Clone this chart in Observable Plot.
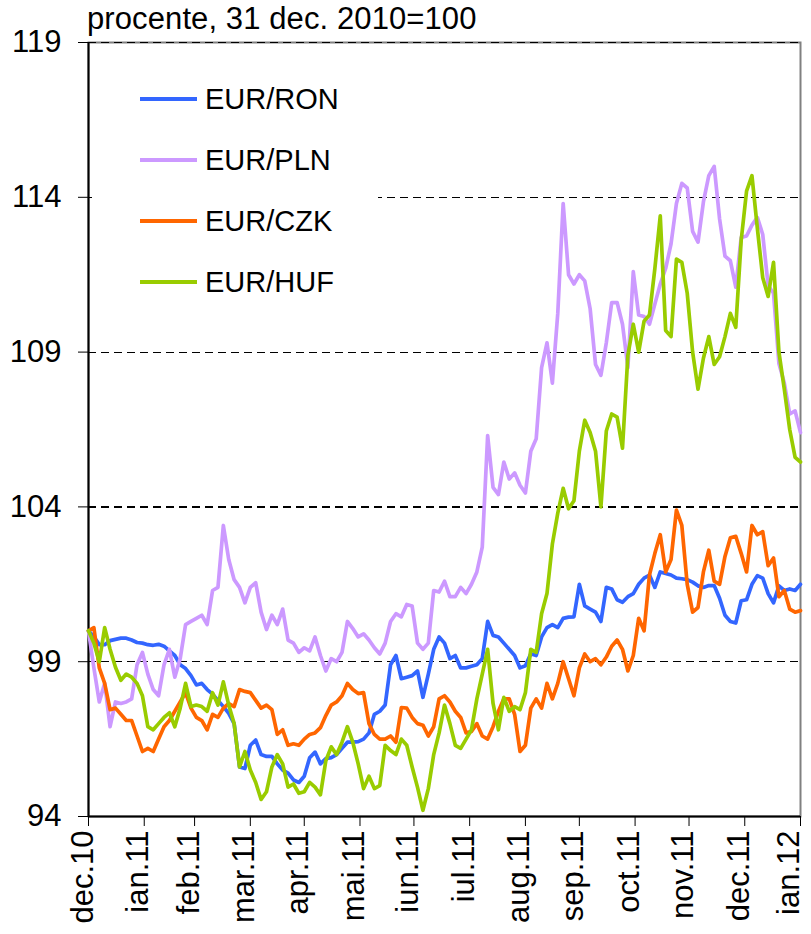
<!DOCTYPE html>
<html><head><meta charset="utf-8">
<script src="https://cdn.jsdelivr.net/npm/d3@7"></script>
<script src="https://cdn.jsdelivr.net/npm/@observablehq/plot@0.6"></script>
<style>
body{margin:0;background:#fff;font-family:"Liberation Sans",Arial,sans-serif;color:#000;}
#wrap{position:relative;width:811px;height:934px;overflow:hidden;}
#wrap svg{position:absolute;left:0;top:0;}
#title{position:absolute;left:87px;top:1px;font-size:31px;letter-spacing:0.1px;white-space:nowrap;line-height:36px;}
#legend{position:absolute;left:92px;top:62px;width:286px;height:250px;background:#fff;}
.item{position:absolute;left:0;height:40px;display:flex;align-items:center;font-size:29px;white-space:nowrap;}
.sw{width:57px;height:3.5px;margin-left:48px;margin-right:8px;}
</style></head>
<body><div id="wrap"></div>
<script>
const title = "procente, 31 dec. 2010=100";
const seriesNames = ["EUR/RON","EUR/PLN","EUR/CZK","EUR/HUF"];
const seriesColors = ["#3366FF","#CC99FF","#FF6600","#99CC00"];
const monthLabels = ["dec.10","ian.11","feb.11","mar.11","apr.11","mai.11","iun.11","iul.11","aug.11","sep.11","oct.11","nov.11","dec.11","ian.12"];
const monthTickDates = ["2010-12-31","2011-01-31","2011-02-28","2011-03-31","2011-04-30","2011-05-31","2011-06-30","2011-07-31","2011-08-31","2011-09-30","2011-10-31","2011-11-30","2011-12-31","2012-01-31"];
const yTicks = [94,99,104,109,114,119];
const gridValues = [99,104,109,114,119];
// sampled every 3 days starting 31 Dec 2010
const RON = [100,99.8,99.55,99.55,99.68,99.72,99.76,99.76,99.7,99.62,
99.6,99.55,99.53,99.56,99.5,99.35,99.2,98.9,98.78,98.55,
98.25,98.3,98.1,97.95,97.75,97.55,97.33,97.0,95.6,95.55,
96.3,96.47,96.0,95.94,95.94,95.7,95.5,95.4,95.18,95.1,
95.3,95.9,96.08,95.7,95.87,95.9,96.0,96.2,96.4,96.4,
96.42,96.5,96.7,97.3,97.4,97.6,98.9,99.2,98.45,98.5,
98.55,98.7,97.85,98.6,99.4,99.8,99.6,99.1,99.2,98.8,
98.8,98.85,98.9,99.1,100.3,99.85,99.8,99.6,99.4,99.2,
98.8,98.87,99.26,99.2,99.8,100.1,100.2,100.1,100.4,100.44,
100.45,101.5,100.8,100.7,100.6,100.3,101.4,101.35,101.0,100.92,
101.1,101.2,101.5,101.7,101.8,101.4,101.9,101.85,101.8,101.7,
101.68,101.65,101.57,101.45,101.4,101.46,101.46,101.05,100.5,100.3,
100.25,100.97,101.0,101.5,101.78,101.7,101.2,100.9,101.45,101.3,
101.35,101.3,101.5];
const PLN = [100,98.8,97.7,98.3,96.9,97.7,97.65,97.7,97.8,98.9,
99.3,98.6,98.1,97.9,98.9,99.4,98.5,99.1,100.2,100.3,
100.4,100.5,100.2,101.3,101.4,103.4,102.3,101.65,101.4,100.9,
101.4,101.55,100.6,100.04,100.5,100.2,100.7,99.7,99.6,99.3,
99.45,99.35,99.8,99.2,98.7,99.1,99.0,99.3,100.3,100.07,
99.8,99.9,99.7,99.45,99.25,99.6,100.3,100.55,100.45,100.85,
100.8,99.6,99.4,99.6,101.3,101.25,101.6,101.1,101.1,101.4,
101.2,101.5,101.9,102.7,106.3,104.63,104.4,105.45,104.9,105.1,
104.7,104.45,105.8,106.2,108.5,109.3,108.0,110.25,113.8,111.5,
111.2,111.5,111.3,110.4,108.6,108.25,109.3,110.6,110.6,109.9,
108.5,111.6,110.2,110.15,109.9,110.55,111.2,111.7,112.5,113.8,
114.45,114.3,112.9,112.55,113.85,114.7,115.0,113.3,112.1,111.95,
111.1,112.7,112.75,113.1,113.35,112.8,111.15,110.9,108.63,108.0,
107.0,107.1,106.4];
const CZK = [100,100.1,98.8,98.3,97.45,97.5,97.3,97.1,97.1,96.6,
96.1,96.2,96.1,96.5,96.9,97.1,97.4,97.7,98.0,97.5,
97.2,97.1,96.8,97.3,97.2,97.5,97.65,97.55,98.1,98.04,
98.0,97.75,97.5,97.6,97.45,96.65,96.8,96.3,96.35,96.3,
96.5,96.65,96.7,96.87,97.26,97.6,97.7,97.9,98.3,98.1,
97.97,98.0,97.0,96.65,96.5,96.5,96.6,96.4,97.52,97.5,
97.2,97.0,96.95,96.6,96.9,97.8,97.9,97.7,97.4,97.2,
96.7,96.75,97.0,96.6,96.5,96.9,97.4,97.8,97.8,97.3,
96.1,96.3,97.5,97.8,97.5,98.3,97.8,98.3,99.0,98.45,
97.9,98.8,99.25,99.0,99.1,98.9,99.15,99.5,99.7,99.4,
98.7,99.2,100.4,100.0,101.8,102.5,103.1,101.9,102.3,103.9,
103.4,101.5,100.6,100.75,101.9,102.6,101.6,101.5,102.4,103.0,
103.05,102.5,101.9,103.4,103.1,103.2,102.1,102.35,101.1,101.3,
100.7,100.6,100.65];
const HUF = [100,99.6,99.0,100.1,99.4,98.82,98.4,98.6,98.5,98.3,
97.9,96.9,96.8,97.0,97.2,97.35,96.9,97.5,98.3,97.55,
97.6,97.55,97.4,98.0,97.6,98.35,97.6,97.0,95.6,96.1,
95.5,95.1,94.55,94.8,95.6,96.0,95.7,94.95,95.05,94.75,
94.8,95.1,94.95,94.7,95.8,96.25,96.0,96.4,96.9,96.4,
95.7,94.9,95.3,94.9,95.0,96.3,96.13,96.0,96.5,96.3,
95.6,94.94,94.2,94.9,96.0,96.7,97.6,97.0,96.3,96.2,
96.5,96.8,97.8,98.6,99.4,97.65,96.8,97.85,97.4,97.55,
97.45,98.0,99.4,99.3,100.55,101.2,102.8,103.8,104.6,103.94,
104.2,105.8,106.8,106.4,105.8,104.0,106.45,107.0,106.9,105.9,
108.9,109.9,109.0,110.0,110.2,111.7,113.4,109.7,109.5,112.0,
111.9,110.9,109.0,107.8,108.8,109.5,108.6,108.85,109.5,110.25,
109.8,112.6,114.2,114.7,113.0,111.4,110.8,111.9,109.0,107.8,
106.5,105.6,105.45];

const values = [RON, PLN, CZK, HUF];
const dates = d3.range(RON.length).map(i => new Date(Date.UTC(2010, 11, 31 + 3 * i)));
const ticks = monthTickDates.map(s => new Date(s + "T00:00:00Z"));
const tickRows = ticks.map((d, i) => ({date: d, label: monthLabels[i]}));
const innerTicks = tickRows.slice(0, -1);
const lastTick = tickRows.slice(-1);
const rows = [];
values.forEach((arr, s) => arr.forEach((v, i) => rows.push({date: dates[i], value: v, series: seriesNames[s]})));

const font = '"Liberation Sans", Arial, sans-serif';
const labelOpts = {x: "date", text: "label", frameAnchor: "bottom", rotate: -90, textAnchor: "end", fontSize: 31, fill: "#000"};
const chart = Plot.plot({
  width: 811, height: 934,
  marginTop: 42, marginBottom: 118, marginLeft: 88, marginRight: 11,
  style: {fontFamily: font, background: "transparent", color: "#000", overflow: "visible"},
  x: {type: "utc", domain: [ticks[0], ticks[ticks.length - 1]]},
  y: {domain: [94, 119]},
  color: {domain: seriesNames, range: seriesColors},
  marks: [
    Plot.frame({stroke: "#808080", strokeWidth: 2}),
    Plot.ruleY(gridValues, {stroke: "#000", strokeWidth: 1.2, strokeDasharray: "8,5", shapeRendering: "crispEdges"}),
    Plot.ruleX([ticks[0]], {stroke: "#000", strokeWidth: 2}),
    Plot.ruleY([94], {stroke: "#000", strokeWidth: 2}),
    Plot.axisY({ticks: yTicks, tickSize: 10, tickPadding: 17, fontSize: 31, tickFormat: d => String(d), label: null}),
    Plot.axisX({ticks: ticks, tickSize: 10, tickFormat: () => "", label: null}),
    Plot.text(innerTicks, {...labelOpts, dy: 14, dx: 4}),
    Plot.text(lastTick, {...labelOpts, dy: 14, dx: -2}),
    Plot.line(rows, {x: "date", y: "value", z: "series", stroke: "series", strokeWidth: 3.7, strokeLinejoin: "round"})
  ]
});
const wrap = document.getElementById("wrap");
wrap.appendChild(chart);
const t = document.createElement("div");
t.id = "title"; t.textContent = title;
wrap.appendChild(t);
const leg = document.createElement("div");
leg.id = "legend";
const centers = [37, 98, 159, 220];
seriesNames.forEach((n, i) => {
  const it = document.createElement("div");
  it.className = "item";
  it.style.top = (centers[i] - 20) + "px";
  const sw = document.createElement("div");
  sw.className = "sw"; sw.style.background = seriesColors[i];
  const tx = document.createElement("span"); tx.textContent = n;
  it.appendChild(sw); it.appendChild(tx);
  leg.appendChild(it);
});
wrap.appendChild(leg);
</script></body></html>
